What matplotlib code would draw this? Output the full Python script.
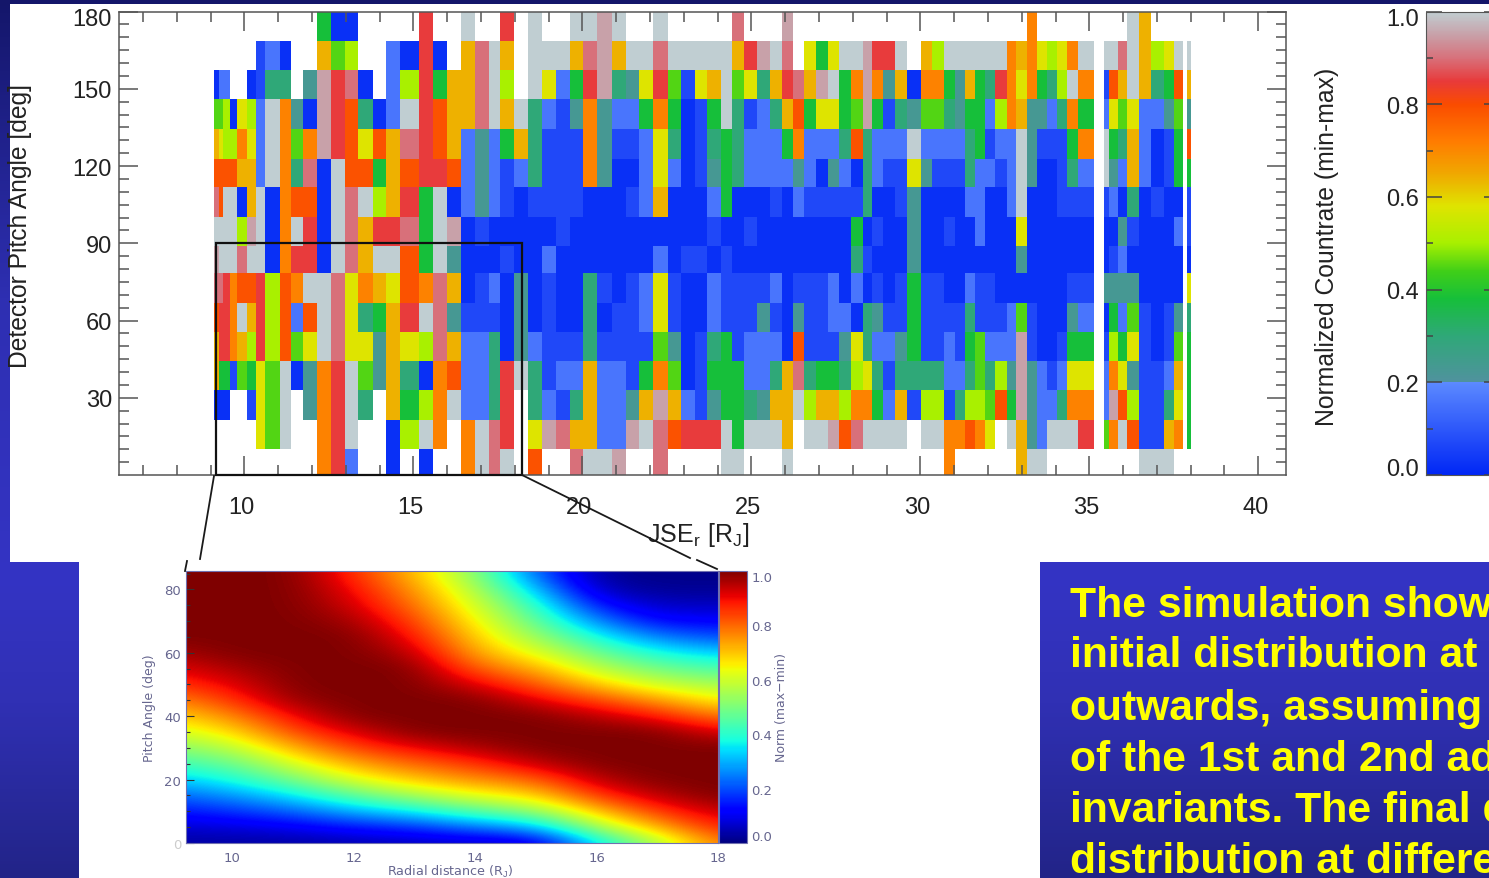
import numpy as np
import matplotlib
matplotlib.use("Agg")
import matplotlib.pyplot as plt
from matplotlib.colors import LinearSegmentedColormap
from matplotlib.lines import Line2D
from matplotlib.patches import Rectangle
from matplotlib.transforms import ScaledTranslation

W, H = 1489, 879

plt.rcParams['font.family'] = ['Liberation Sans', 'DejaVu Sans']
plt.rcParams['mathtext.fontset'] = 'custom'
plt.rcParams['mathtext.rm'] = 'Liberation Sans'

# bin edges of the detector panel, JSE_r in R_J (gaps are blank columns)
jse_edges = [9.10, 9.26, 9.38, 9.58, 9.79, 10.07, 10.35, 10.62, 11.04, 11.37, 11.72,
             12.14, 12.56, 12.97, 13.37, 13.80, 14.19, 14.61, 15.17, 15.57, 15.99,
             16.40, 16.81, 17.23, 17.57, 17.98, 18.40,
             18.81, 19.22, 19.64, 20.03, 20.44, 20.87, 21.28, 21.69, 22.10, 22.52,
             22.93, 23.33, 23.68, 24.09, 24.44, 24.78, 25.18, 25.55, 25.90, 26.24,
             26.57, 26.91, 27.26, 27.60, 27.95,
             28.29, 28.56, 28.91, 29.25, 29.60, 30.01, 30.34, 30.70, 31.03, 31.32,
             31.62, 31.91, 32.21, 32.56, 32.83, 33.17, 33.44, 33.74, 34.05, 34.35,
             34.68, 35.15, 35.44, 35.58, 35.86, 36.13, 36.48, 36.82, 37.22, 37.51,
             37.76, 37.90, 38.00]
pitch_edges = [0, 10, 21.4, 32.9, 44.3, 55.6, 66.9, 78.3, 89, 100.3, 111.7, 122.7,
               134.3, 146, 157.3, 168.7, 180]

# one letter per bin, top row first
code_values = {'.': np.nan, 'b': 0.02, 'B': 0.07, 'l': 0.16, 't': 0.23, 'T': 0.30,
               'g': 0.38, 'G': 0.45, 'y': 0.50, 'Y': 0.58, 'a': 0.64, 'o': 0.71,
               'r': 0.79, 'R': 0.85, 'p': 0.90, 's': 0.95, 'w': 1.00}
pitch_rows = [
    "...........gbb....R..w..R.w" "..wwsw..w.....p...s......" "...............o.........wa.....",
    "......Blb..aGy..lbRb.apwa.w" "wwapsawwpwwwwwaRswp.YgYww" "sRRw.aywwwwwwoaoYyYow.wwpwayYw.w",
    "bll..bBTT.tsRpb.lyRgaapwy.w" "YlgRsTtYRGBYawGYTaRpaswgo" "sotaboogtagTRoYogTywo.BrawaTgr.a",
    "GGybYylwotbsRrTblwRraapwawT" "lBtotllgogbBgwTBlTargYYgG" "sgBTtGGTtgglyoattlTog.lYGYlltG.t",
    "aYyyoYlwoGosRrYrapRraltlgaT" "BBBotBBlYTbBTgTlllgolllTr" "TlllwllllTgBllwtBBBgo.wgTalbBg.r",
    "rrrraalwoTpbwrrgarRRrltlBlT" "BBBotbblYlbBtgTlllltlbtlb" "TlBBYtBBBTllBlwtbbBTl.wtlalbBg.g",
    "prwwbawborrbwpwyaRgwbltlBbB" "BBBbbbBlabbblgbbbBblBBBBB" "TbbBtbbbbllbblwbbbBBB.BlbTbBbb.B",
    "wwwwyswbowRbwpaRRpgwsbBbbbb" "bBbbbbbbbbbbBbbBbbbbbbbbg" "bBbbtbbBbblbbbYbbbbbb.bbtBbbbl.B",
    "swwwpwwboRRbwpawwrgwtbbbBbb" "lbbbbbbblbBBbBbbbbbbbbbbT" "Bbbbtbbbbbbbbbtbbbbbb.bBlbbbbb.b",
    "ppRorrRyrowwpYoaYropabBlbtb" "BbbTBbBlYBbblBBBBlbBBBlbl" "bBbBgBBbblBBbbbbbbbBB.ttttbbbb.Y",
    "rRRowaRyrlrwpYTgaRwptBBBbtb" "BbbTbBBlYBbblBBBtBbtBBllb" "TtBBgBBBBTBBBlGBbbbtl.bglGBbBt.T",
    "aRRoayRyrGYwpYYtaYypallTbtl" "BBBTBBBBGtbBTgBlllbrBBBtY" "TlltgBBlBgGlllsBbbBgg.BygYBbBG.g",
    "aggBGgYGwbtoRwGtaTborllTRwT" "BllallBgoGbBgggllTapTggTy" "YTBTTTTllTGTytstlBlYY.loYtBBla.g",
    "bbb..BYGw.toRwT.agyowllTR.T" "lBTalltasalBtggTtaawyaayo" "oglaByyBTyyGrgstllToo.lsryBBTY.g",
    "......YGw..oRw..bywo.owpR.Y" "spaallswprRRRwgwwwa.wwsrp" "wwww.wwooroY.watlwwwR.GowrBBao.g",
    "...........oRl..b.b..owpw.r" "..pwws..p....ww...w......" ".......o......aww.........www...",
]

jse_major = [10, 15, 20, 25, 30, 35, 40]
jse_minor = list(range(7, 41))
pitch_major = [30, 60, 90, 120, 150, 180]
pitch_minor = list(range(5, 180, 5))
cbar_major = [0.0, 0.2, 0.4, 0.6, 0.8, 1.0]
cbar_minor = [0.1, 0.3, 0.5, 0.7, 0.9]

# colour bar of the detector panel, jump at 0.2 included
cbar_stops = [(0.0, '#0026f5'), (0.2, '#5c8aff'), (0.2, '#50929e'), (0.3, '#2fa878'),
              (0.38, '#16bf3a'), (0.44, '#40cf18'), (0.5, '#a8f000'), (0.58, '#dfe400'),
              (0.65, '#f0a800'), (0.72, '#ff7c00'), (0.8, '#fa4c00'), (0.85, '#e83a3a'),
              (0.9, '#d8707a'), (0.95, '#c8a0a8'), (1.0, '#c0ced2')]

# simulation panel, norm by pitch angle for each radial distance
sim_radius = [9, 10, 11, 12, 13, 14, 15, 16, 17, 18]
sim_pitch = [0, 5, 10, 15, 20, 25, 30, 35, 40, 45, 50, 55, 60, 65, 70, 75, 80, 85]
norm_r09 = [.03, .07, .14, .22, .32, .42, .51, .60, .68, .76, .85, .91, .96, 1, 1, 1, 1, 1]
norm_r10 = [.03, .08, .17, .27, .38, .47, .57, .67, .76, .85, .91, .96, 1, 1, 1, 1, 1, 1]
norm_r11 = [.03, .10, .22, .35, .49, .61, .72, .83, .90, .98, 1, 1, 1, 1, 1, 1, 1, 1]
norm_r12 = [.04, .14, .30, .46, .62, .73, .84, .92, 1, 1, 1, 1, 1, 1, .97, .93, .90, .86]
norm_r13 = [.05, .17, .36, .55, .70, .80, .90, 1, 1, 1, 1, 1, .95, .89, .84, .79, .75, .71]
norm_r14 = [.06, .24, .45, .63, .76, .85, .96, 1, 1, 1, .92, .81, .73, .69, .65, .61, .57, .52]
norm_r15 = [.06, .30, .52, .68, .80, .94, 1, 1, 1, .92, .82, .73, .63, .54, .47, .41, .32, .22]
norm_r16 = [.34, .55, .70, .85, .95, 1, 1, 1, .95, .84, .70, .58, .48, .38, .26, .14, .05, .02]
norm_r17 = [.55, .72, .85, .95, 1, 1, 1, 1, .89, .75, .60, .49, .38, .25, .12, .06, .02, .01]
norm_r18 = [.78, .88, .94, 1, 1, 1, 1, .92, .78, .65, .55, .44, .33, .20, .12, .06, .02, .01]

summary_lines = ["The simulation show", "initial distribution at", "outwards, assuming",
                 "of the 1st and 2nd ad", "invariants. The final d", "distribution at differe"]
summary_baselines = [617, 667, 720, 771, 822, 873]


def px_rect(left, top, right, bottom):
    return [left / W, 1 - bottom / H, (right - left) / W, (bottom - top) / H]


def nudge(fig, label, dx, dy):
    # dx, dy in pixels, y up
    label.set_transform(label.get_transform() + ScaledTranslation(dx / 100, dy / 100, fig.dpi_scale_trans))


def main():
    fig = plt.figure(figsize=(W / 100, H / 100), dpi=100)

    # slide background and the white panels pasted on it
    bg = fig.add_axes([0, 0, 1, 1], zorder=-2)
    slide = LinearSegmentedColormap.from_list("slide", [(0, '#14166a'), (0.34, '#2e2fb2'),
                                                        (0.66, '#3434c4'), (0.8, '#3030b4'),
                                                        (1, '#222488')])
    bg.imshow(np.linspace(0, 1, 256)[:, None], cmap=slide, aspect='auto', extent=(0, W, H, 0))
    bg.add_patch(Rectangle((10, 5), W - 10, 558, fc='white', ec='none'))
    bg.add_patch(Rectangle((79, 563), 961, H - 563, fc='white', ec='none'))
    bg.set_xlim(0, W)
    bg.set_ylim(H, 0)
    bg.axis('off')

    counts = np.array([[code_values[c] for c in row] for row in pitch_rows])[::-1]
    cmap = LinearSegmentedColormap.from_list("countrate", cbar_stops, N=512)

    ax = fig.add_axes(px_rect(119, 12.5, 1286, 476))
    mesh = ax.pcolormesh(jse_edges, pitch_edges, np.ma.masked_invalid(counts), cmap=cmap,
                         vmin=0, vmax=1, linewidth=0, rasterized=True)
    ax.set_xlim(6.29, 40.82)
    ax.set_ylim(0, 180)
    ax.set_xticks(jse_major)
    ax.set_xticks(jse_minor, minor=True)
    ax.set_yticks(pitch_major)
    ax.set_yticks(pitch_minor, minor=True)
    ax.tick_params(which='both', direction='in', top=True, right=True, color='#555555', width=1.1)
    ax.tick_params(which='major', length=14, labelsize=17, labelcolor='#222222')
    ax.tick_params(which='minor', length=7.5)
    ax.tick_params(axis='x', which='major', pad=15)
    ax.tick_params(axis='y', which='major', pad=5)
    for lab in ax.get_xticklabels():
        nudge(fig, lab, -3, 0)
    nudge(fig, ax.get_yticklabels()[-1], 0, -5)
    for s in ax.spines.values():
        s.set_color('#555555')
        s.set_linewidth(1.1)
    fig.text(20 / W, 1 - 226.5 / H, "Detector Pitch Angle [deg]", rotation=90, fontsize=17.7,
             color='#222222', ha='center', va='center')
    fig.text(698 / W, 1 - 535 / H, r"$\mathrm{JSE_r\ [R_J]}$", fontsize=18, color='#222222',
             ha='center', va='center')

    # box around the region shown in the simulation below
    ax.add_patch(Rectangle((9.16, 0), 18.22 - 9.16, 90, fill=False, ec='#111111', lw=1.6,
                           clip_on=False, zorder=4))

    cax = fig.add_axes(px_rect(1426, 12.5, 1500, 476))
    cbar = fig.colorbar(mesh, cax=cax)
    cbar.outline.set_edgecolor('#555555')
    cbar.set_ticks(cbar_major)
    cax.set_yticks(cbar_minor, minor=True)
    cax.tick_params(which='both', direction='in', left=True, right=True, labelleft=True,
                    labelright=False, color='#444444', width=1.1)
    cax.tick_params(which='major', length=11.5, labelsize=17, labelcolor='#222222', pad=5)
    cax.tick_params(which='minor', length=5)
    cax.set_yticklabels(["%.1f" % v for v in cbar_major])
    nudge(fig, cax.get_yticklabels()[0], 0, 8)
    nudge(fig, cax.get_yticklabels()[-1], 0, -5.5)
    fig.text(1327 / W, 1 - 247 / H, "Normalized Countrate (min-max)", rotation=90, fontsize=17.8,
             color='#222222', ha='center', va='center')

    # simulation inset
    norm = np.array([norm_r09, norm_r10, norm_r11, norm_r12, norm_r13, norm_r14, norm_r15,
                     norm_r16, norm_r17, norm_r18]).T
    slate = '#66668f'
    inset = fig.add_axes(px_rect(186, 572, 718, 844), zorder=2)
    half_r = (sim_radius[1] - sim_radius[0]) / 2
    half_p = (sim_pitch[1] - sim_pitch[0]) / 2
    sim = inset.imshow(norm, cmap='jet', vmin=0, vmax=1, origin='lower', aspect='auto',
                       interpolation='bicubic',
                       extent=(sim_radius[0] - half_r, sim_radius[-1] + half_r,
                               sim_pitch[0] - half_p, sim_pitch[-1] + half_p))
    inset.set_xlim(9.24, 18)
    inset.set_ylim(0, 85.8)
    inset.set_xticks([10, 12, 14, 16, 18])
    inset.set_yticks([0, 20, 40, 60, 80])
    inset.set_yticks(list(range(5, 86, 5)), minor=True)
    inset.tick_params(which='both', direction='in', color='#333333', width=0.8)
    inset.tick_params(which='major', length=6, labelsize=9.5, labelcolor=slate)
    inset.tick_params(which='minor', length=3)
    inset.tick_params(axis='x', length=0, pad=6)
    inset.get_yticklabels()[0].set_color('#cccccc')
    for s in inset.spines.values():
        s.set_color('#7070b0')
        s.set_linewidth(0.8)
    for lab in inset.get_xticklabels() + inset.get_yticklabels():
        lab.set_family('DejaVu Sans')
    fig.text(450 / W, 1 - 872 / H, "Radial distance (R$_{\\mathrm{J}}$)", fontsize=9.2, color=slate,
             family='DejaVu Sans', ha='center', va='center')
    fig.text(150 / W, 1 - 708 / H, "Pitch Angle (deg)", rotation=90, fontsize=9, color=slate,
             family='DejaVu Sans', ha='center', va='center')

    icax = fig.add_axes(px_rect(719, 572, 747, 844), zorder=2)
    ibar = fig.colorbar(sim, cax=icax)
    ibar.set_ticks(cbar_major)
    ibar.outline.set_edgecolor('#7070b0')
    icax.tick_params(length=0, pad=3, labelsize=9.5, labelcolor=slate)
    icax.set_yticklabels(["%.1f" % v for v in cbar_major], family='DejaVu Sans')
    icax.get_yticklabels()[0].set_va('bottom')
    icax.get_yticklabels()[-1].set_va('top')
    fig.text(782 / W, 1 - 708 / H, "Norm (max\u2212min)", rotation=90, fontsize=9, color=slate,
             family='DejaVu Sans', ha='center', va='center')

    # zoom connectors, broken where the inset picture was pasted over them
    for xs, ys in [((214, 200), (477, 560)), ((187, 185), (562, 572)),
                   ((522, 690), (476, 559)), ((697, 717), (561, 570))]:
        fig.add_artist(Line2D([x / W for x in xs], [1 - y / H for y in ys], color='#1a1a1a',
                              lw=1.3, zorder=6))

    for line, base in zip(summary_lines, summary_baselines):
        fig.text(1070 / W, 1 - base / H, line, fontsize=30.7, fontweight='bold', color='#ffff00',
                 ha='left', va='baseline')

    fig.savefig("out.png", dpi=100)


if __name__ == "__main__":
    main()
